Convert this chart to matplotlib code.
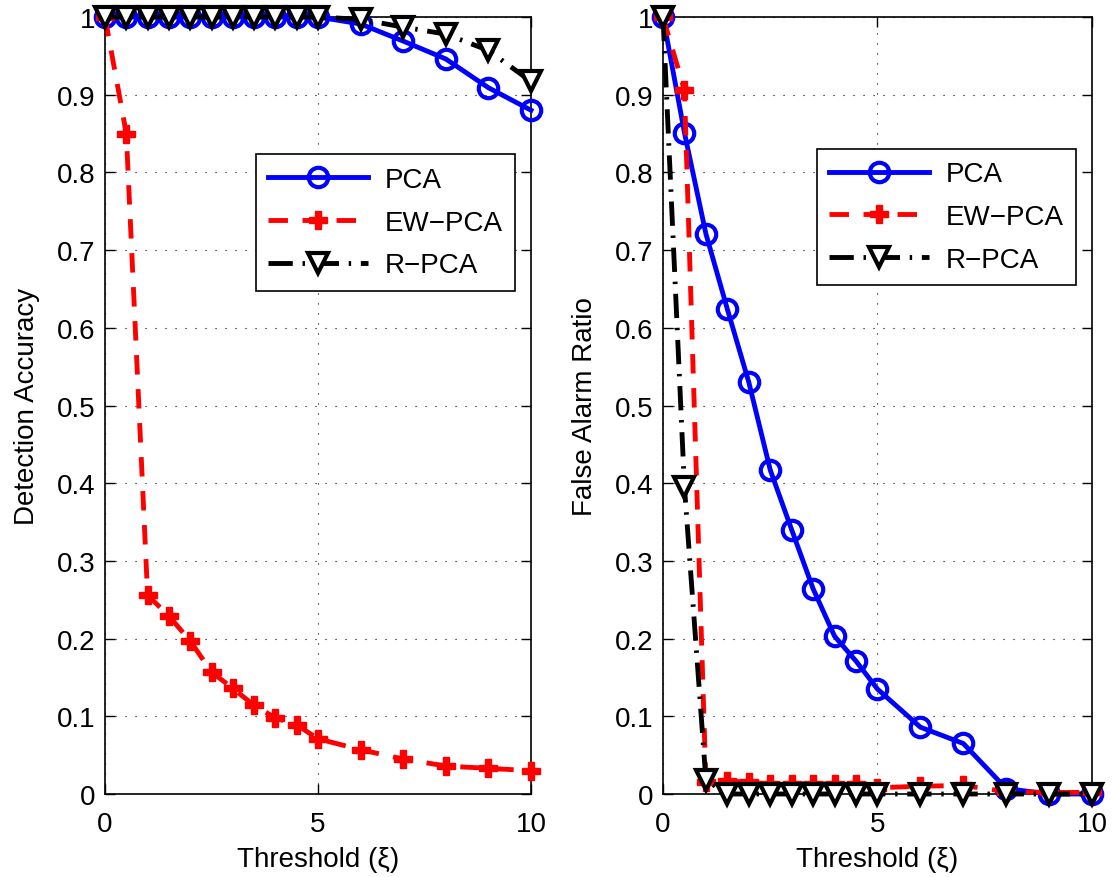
import numpy as np
import matplotlib.pyplot as plt

plt.rcParams['font.family'] = ['Liberation Sans', 'DejaVu Sans']

# threshold values
xi = [0, 0.5, 1, 1.5, 2, 2.5, 3, 3.5, 4, 4.5, 5, 6, 7, 8, 9, 10]

# detection accuracy
acc_pca = [1, 1, 1, 1, 1, 1, 1, 1, 1, 1, 1, 0.991, 0.969, 0.946, 0.909, 0.880]
acc_ew = [1, 0.85, 0.256, 0.229, 0.197, 0.157, 0.136, 0.114, 0.098, 0.089,
          0.071, 0.057, 0.045, 0.036, 0.033, 0.030]
acc_r = [1, 1, 1, 1, 1, 1, 1, 1, 1, 1, 1, 0.997, 0.987, 0.978, 0.957, 0.917]

# false alarm ratio
far_pca = [1, 0.851, 0.721, 0.624, 0.530, 0.417, 0.340, 0.264, 0.203, 0.171,
           0.135, 0.086, 0.065, 0.007, 0, 0]
far_ew = [1, 0.906, 0.016, 0.017, 0.015, 0.013, 0.013, 0.013, 0.013, 0.013,
          0.008, 0.010, 0.011, 0.003, 0.002, 0.002]
far_r = [1, 0.395, 0.018, 0, 0, 0, 0, 0, 0, 0, 0, 0, 0, 0, 0, 0]

labels = ['PCA', 'EW\u2212PCA', 'R\u2212PCA']

fig = plt.figure(figsize=(11.12, 8.78), dpi=100)
ax1 = fig.add_axes([105/1112, 1 - 795/878, 426/1112, 777/878])
ax2 = fig.add_axes([663/1112, 1 - 795/878, 429/1112, 777/878])


def draw(ax, pca, ew, r, ylabel, leg_anchor):
    ax.plot(xi, pca, color='blue', lw=3.5, marker='o', ms=14, mew=3,
            mfc='none', clip_on=False, zorder=3, label=labels[0])
    ax.plot(xi, ew, color='red', lw=3.5, ls=(0, (4, 3)), marker='P', ms=13,
            mew=1, mfc='red', mec='red', clip_on=False, zorder=4, label=labels[1])
    ax.plot(xi, r, color='black', lw=3.5, ls=(0, (5, 2, 0.5, 2)), marker='v',
            ms=15, mew=3, mfc='white', mec='black', clip_on=False, zorder=5,
            label=labels[2])
    ax.set_xlim(0, 10)
    ax.set_ylim(0, 1)
    ax.set_xticks([0, 5, 10])
    ax.set_yticks(np.arange(0, 1.01, 0.1))
    ax.set_yticklabels(['0'] + ['%.1f' % v for v in np.arange(0.1, 0.95, 0.1)] + ['1'])
    ax.tick_params(direction='in', labelsize=20, length=7, width=1,
                   top=True, right=True, pad=7)
    ax.tick_params(axis='x', pad=12)
    ax.grid(True, color='black', ls=(0, (1, 8)), lw=0.8)
    for s in ax.spines.values():
        s.set_linewidth(1.2)
    ax.set_xlabel('Threshold (\u03be)', fontsize=20, labelpad=7)
    ax.set_ylabel(ylabel, fontsize=20, labelpad=12)
    leg = ax.legend(loc='upper left', bbox_to_anchor=leg_anchor, fontsize=20,
                    fancybox=False, edgecolor='black', framealpha=1,
                    handlelength=3.6, borderpad=0.45, labelspacing=0.6,
                    handletextpad=0.6)
    leg.get_frame().set_linewidth(1.2)


draw(ax1, acc_pca, acc_ew, acc_r, 'Detection Accuracy', (0.321, 0.841))
draw(ax2, far_pca, far_ew, far_r, 'False Alarm Ratio', (0.326, 0.848))

fig.savefig('out.png', dpi=100)
